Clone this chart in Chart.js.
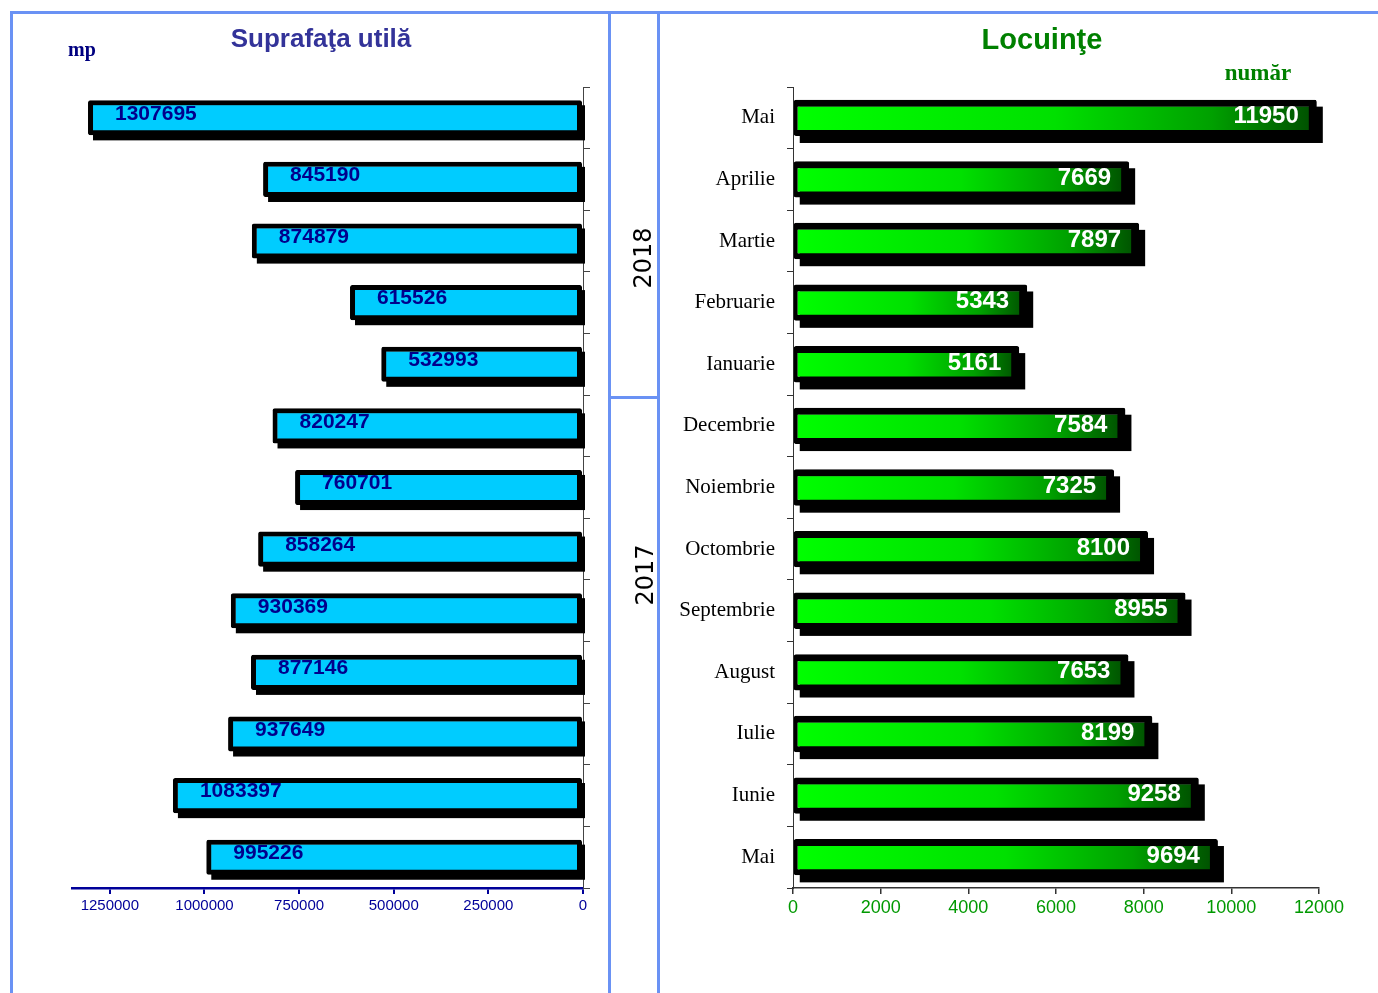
<!DOCTYPE html>
<html lang="ro">
<head>
<meta charset="UTF-8" />
<title>Suprafata utila si locuinte</title>
<script src="https://cdn.jsdelivr.net/npm/chart.js@4.4.0/dist/chart.umd.min.js"></script>
<style>
  body { margin: 0; width: 1378px; height: 993px; overflow: hidden; background: #fff; position: relative; }
  canvas { position: absolute; top: 0; }
  .line { position: absolute; background: #6a92f4; z-index: 5; }
  .txt { position: absolute; transform: translate(-50%, -50%); white-space: nowrap; z-index: 6; }
</style>
</head>
<body>
<canvas id="left" width="608" height="993" style="left:0"></canvas>
<canvas id="right" width="718" height="993" style="left:660px"></canvas>

<!-- frame -->
<div class="line" style="left:10px; top:11px; width:1368px; height:3px"></div>
<div class="line" style="left:10px; top:11px; width:3px; height:982px"></div>
<div class="line" style="left:608px; top:11px; width:3px; height:982px"></div>
<div class="line" style="left:657px; top:11px; width:3px; height:982px"></div>
<div class="line" style="left:609px; top:396px; width:50px; height:3px"></div>

<div class="txt" style="left:321px; top:38px; font:bold 26px 'Liberation Sans'; color:#333399">Suprafaţa utilă</div>
<div class="txt" style="left:82px; top:49px; font:bold 20px 'Liberation Serif'; color:#000080">mp</div>
<div class="txt" style="left:1042px; top:39px; font:bold 29px 'Liberation Sans'; color:#008000">Locuinţe</div>
<div class="txt" style="left:1258px; top:73px; font:bold 23px 'Liberation Serif'; color:#008000">număr</div>
<div class="txt" style="left:643px; top:258px; font:24px 'DejaVu Sans'; color:#000; transform:translate(-50%,-50%) rotate(-90deg)">2018</div>
<div class="txt" style="left:645px; top:575px; font:24px 'DejaVu Sans'; color:#000; transform:translate(-50%,-50%) rotate(-90deg)">2017</div>

<script>
// luni: mai 2017 .. mai 2018 (de sus in jos: mai 2018 primul)
const luni = ['Mai', 'Aprilie', 'Martie', 'Februarie', 'Ianuarie', 'Decembrie', 'Noiembrie',
              'Octombrie', 'Septembrie', 'August', 'Iulie', 'Iunie', 'Mai'];
const suprafata = [1307695, 845190, 874879, 615526, 532993, 820247, 760701,
                   858264, 930369, 877146, 937649, 1083397, 995226];
const locuinte = [11950, 7669, 7897, 5343, 5161, 7584, 7325, 8100, 8955, 7653, 8199, 9258, 9694];
const ticksSuprafata = [0, 250000, 500000, 750000, 1000000, 1250000];
const ticksLocuinte = [0, 2000, 4000, 6000, 8000, 10000, 12000];

Chart.defaults.animation = false;

// umbra neagra sub bare (desenata inainte de bare, deplasata dreapta-jos)
function barShadow(dx, dy, clipRight) {
  return {
    id: 'barShadow',
    beforeDatasetsDraw(chart) {
      const c = chart.ctx;
      const a = chart.chartArea;
      c.save();
      if (clipRight !== null) {
        c.beginPath();
        c.rect(a.left, a.top, a.right + clipRight - a.left, a.bottom - a.top);
        c.clip();
      }
      c.fillStyle = '#000';
      chart.getDatasetMeta(0).data.forEach(bar => {
        const p = bar.getProps(['x', 'y', 'base', 'height'], true);
        const left = Math.min(p.x, p.base);
        const w = Math.abs(p.x - p.base);
        c.fillRect(left + dx, p.y - p.height / 2 + dy, w, p.height);
      });
      c.restore();
    }
  };
}

// etichete valori
function valueLabels(font, color, place) {
  return {
    id: 'valueLabels',
    afterDraw(chart) {
      const c = chart.ctx;
      const meta = chart.getDatasetMeta(0);
      const vals = chart.data.datasets[0].data;
      c.save();
      c.font = font;
      c.fillStyle = color;
      c.textBaseline = 'middle';
      meta.data.forEach((bar, i) => place(c, bar, String(vals[i])));
      c.restore();
    }
  };
}

new Chart(document.getElementById('left'), {
  type: 'bar',
  data: {
    labels: luni,
    datasets: [{
      data: suprafata,
      backgroundColor: '#00ccff',
      borderColor: '#000',
      borderWidth: 5,
      borderSkipped: false,
      borderRadius: 2,
      barPercentage: 0.57,
      categoryPercentage: 1,
      clip: { left: 0, top: 0, right: 2, bottom: 0 }
    }]
  },
  options: {
    indexAxis: 'y',
    responsive: false,
    devicePixelRatio: 1,
    layout: { padding: { left: 72, top: 87, right: 17, bottom: 70 } },
    plugins: { legend: { display: false }, tooltip: { enabled: false } },
    scales: {
      x: {
        type: 'linear',
        reverse: true,
        min: 0,
        max: 1350000,
        afterBuildTicks: s => { s.ticks = ticksSuprafata.map(v => ({ value: v })); },
        afterFit: s => { s.height = 35; },
        ticks: { color: '#000099', font: { family: 'Liberation Sans', size: 15 }, padding: 3,
                 maxRotation: 0, autoSkip: false, callback: v => String(v) },
        grid: { drawOnChartArea: false, tickLength: 6, color: '#000099', lineWidth: 2 },
        border: { color: '#000099', width: 2.5 }
      },
      y: {
        position: 'right',
        afterFit: s => { s.width = 8; },
        ticks: { display: false },
        grid: { drawOnChartArea: false, tickLength: 7, color: '#444', lineWidth: 1 },
        border: { color: '#444', width: 1 }
      }
    }
  },
  plugins: [barShadow(5, 5, 2), valueLabels("bold 21px 'Liberation Sans'", '#00008c', (c, bar, t) => {
    c.textAlign = 'left';
    c.fillText(t, bar.x + 27, bar.y - 4);
  })]
});

function greenFill(ctx) {
  const chart = ctx.chart;
  if (!chart.chartArea || ctx.type !== 'data') return '#00dd00';
  const x = chart.scales.x;
  const x0 = x.getPixelForValue(0);
  const x1 = x.getPixelForValue(ctx.parsed.x);
  const g = chart.ctx.createLinearGradient(x0, 0, x1, 0);
  g.addColorStop(0, '#00ff00');
  g.addColorStop(0.5, '#00e000');
  g.addColorStop(0.8, '#00a000');
  g.addColorStop(1, '#004c00');
  return g;
}

new Chart(document.getElementById('right'), {
  type: 'bar',
  data: {
    labels: luni,
    datasets: [{
      data: locuinte,
      backgroundColor: greenFill,
      borderColor: '#000',
      borderWidth: { top: 7, bottom: 6, left: 4, right: 8 },
      borderSkipped: false,
      borderRadius: 2,
      barPercentage: 0.59,
      categoryPercentage: 1,
      clip: false
    }]
  },
  options: {
    indexAxis: 'y',
    responsive: false,
    devicePixelRatio: 1,
    layout: { padding: { left: 0, top: 87, right: 59, bottom: 70 } },
    plugins: { legend: { display: false }, tooltip: { enabled: false } },
    scales: {
      x: {
        type: 'linear',
        min: 0,
        max: 12000,
        afterBuildTicks: s => { s.ticks = ticksLocuinte.map(v => ({ value: v })); },
        afterFit: s => { s.height = 35; },
        ticks: { color: '#009900', font: { family: 'Liberation Sans', size: 18 }, padding: 3,
                 maxRotation: 0, autoSkip: false, callback: v => String(v) },
        grid: { drawOnChartArea: false, tickLength: 6, color: '#333', lineWidth: 1.5 },
        border: { color: '#333', width: 1.5 }
      },
      y: {
        position: 'left',
        afterFit: s => { s.width = 133; },
        ticks: { color: '#000', font: { family: 'Liberation Serif', size: 21 }, padding: 12 },
        grid: { drawOnChartArea: false, tickLength: 6, color: '#333', lineWidth: 1 },
        border: { color: '#333', width: 1 }
      }
    }
  },
  plugins: [barShadow(6, 7, null), valueLabels("bold 24px 'Liberation Sans'", '#fff', (c, bar, t) => {
    c.textAlign = 'right';
    c.fillText(t, bar.x - 18, bar.y - 1);
  })]
});
</script>
</body>
</html>
